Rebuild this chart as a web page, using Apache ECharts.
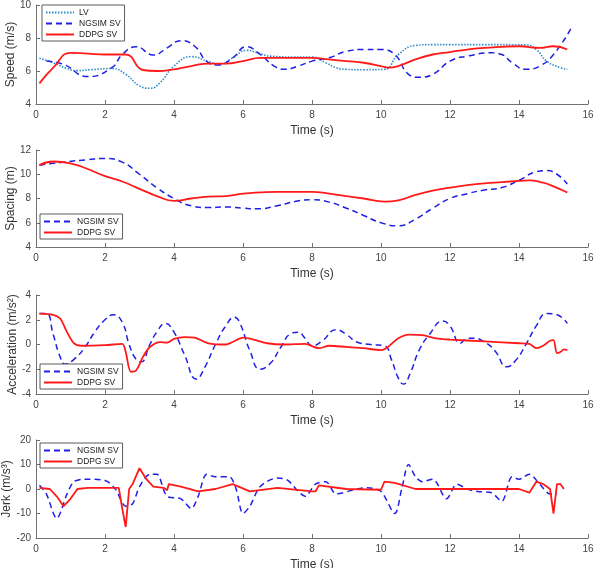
<!DOCTYPE html>
<html><head><meta charset="utf-8">
<script src="https://cdn.jsdelivr.net/npm/echarts@6/dist/echarts.min.js"></script>
<style>html,body{margin:0;padding:0;background:#fff}#c{width:594px;height:568px}</style>
</head><body><div id="c"></div>
<script>
// ---- Speed panel ----
const speedLV_t = [0.1,0.5,0.9,1.2,1.6,2.2,2.6,3.0,3.3,3.6,4.0,4.5,5.0,5.3,5.7,6.1,6.5,6.8,7.5,8.0,8.4,8.7,9.0,9.5,10.1,10.5,11.0,11.5,12,13,14.2,14.5,14.8,15.2,15.4];
const speedLV_v = [6.77,6.5,6.15,6.02,6.08,6.15,5.8,5.1,4.95,5.3,6.3,6.87,6.57,6.4,6.8,7.25,7.05,6.9,6.85,6.85,6.5,6.2,6.1,6.08,6.1,7.0,7.55,7.6,7.6,7.6,7.58,7.3,6.6,6.2,6.1];
const speedNG_t = [0.3,0.8,1.5,2.2,2.5,2.9,3.4,3.8,4.2,4.6,5.0,5.3,5.7,6.1,6.5,6.9,7.2,7.6,8.0,8.5,9.0,9.5,10.0,10.4,10.8,11.1,11.5,12,12.5,13.2,13.5,13.8,14.2,14.6,15.0,15.5];
const speedNG_v = [6.6,6.4,5.66,6.2,7.0,7.47,6.97,7.4,7.84,7.5,6.5,6.36,6.8,7.47,7.0,6.3,6.1,6.3,6.6,6.8,7.2,7.3,7.3,7.0,5.8,5.62,5.8,6.6,6.9,7.1,7.0,6.5,6.1,6.3,7.0,8.55];
const speedDD_t = [0.1,0.5,1.0,1.5,2.0,2.6,3.1,3.5,4.0,4.5,5.0,5.5,6.0,6.5,7.0,8.0,8.5,9.0,9.5,10.0,10.2,10.5,11.0,11.5,12.0,12.5,13.0,14.0,14.6,15.0,15.4];
const speedDD_v = [5.25,6.2,7.1,7.05,7.0,7.0,6.06,6.0,6.1,6.3,6.45,6.45,6.6,6.8,6.8,6.8,6.7,6.6,6.5,6.3,6.2,6.3,6.7,7.0,7.15,7.3,7.4,7.5,7.4,7.5,7.3];
// ---- Spacing panel ----
const spaceNG_t = [0.1,0.8,1.5,2.0,2.5,3.0,3.5,4.0,4.5,5.0,5.5,6.0,6.4,7.0,7.5,8.0,8.5,9.0,9.5,10.0,10.5,11.0,11.5,12.0,12.5,13.0,13.5,14.0,14.5,14.8,15.1,15.4];
const spaceNG_v = [10.75,11.0,11.2,11.3,11.0,10.0,8.9,8.0,7.4,7.25,7.3,7.2,7.15,7.4,7.75,7.9,7.7,7.2,6.6,6.0,5.75,6.3,7.2,8.0,8.4,8.7,8.9,9.5,10.2,10.3,10.0,9.2];
const spaceDD_t = [0.1,0.5,1.0,2.0,2.5,3.0,3.5,4.0,4.5,5.0,5.5,6.0,6.5,7.0,8.0,8.5,9.0,9.5,10.1,10.5,11.0,11.5,12.0,12.5,13.0,13.5,14.0,14.3,14.7,15.0,15.4];
const spaceDD_v = [10.75,11.05,10.9,9.85,9.4,8.8,8.2,7.8,8.0,8.15,8.2,8.4,8.5,8.55,8.55,8.4,8.2,8.0,7.75,7.85,8.3,8.65,8.9,9.1,9.25,9.35,9.45,9.5,9.3,9.0,8.5];
// ---- Acceleration panel ----
const accNG_t = [0.1,0.3,0.5,0.7,0.85,1.1,1.4,1.7,2.0,2.25,2.5,2.7,2.9,3.05,3.3,3.5,3.75,4.0,4.3,4.65,4.9,5.2,5.5,5.75,5.9,6.2,6.5,6.8,7.1,7.4,7.6,7.8,8.0,8.3,8.7,9.0,9.3,9.7,10.1,10.3,10.5,10.65,10.85,11.1,11.4,11.8,12.0,12.3,12.5,12.7,13.0,13.3,13.65,13.9,14.2,14.5,14.8,15.1,15.4];
const accNG_v = [2.5,2.5,0.8,-1.0,-1.6,-1.2,-0.3,1.0,2.0,2.4,1.8,0.0,-1.2,-1.4,0.0,1.0,1.7,1.0,-0.8,-2.8,-1.8,0.0,1.5,2.2,1.8,-0.5,-2.0,-1.5,-0.2,0.9,1.0,0.5,-0.1,0.3,1.2,0.8,0.2,0.0,-0.1,-1.2,-2.7,-3.2,-2.3,-0.5,0.8,1.9,1.5,0.1,0.5,0.5,0.2,-0.5,-1.8,-1.3,0.0,1.5,2.5,2.4,1.7];
const accDD_t = [0.1,0.5,0.7,0.9,1.1,1.3,2.0,2.5,2.6,2.75,2.9,3.1,3.3,3.6,3.8,4.0,4.3,4.6,5.0,5.5,5.7,6.0,6.3,6.7,7.2,7.8,8.2,8.5,9.0,9.5,10.0,10.2,10.5,10.8,11.2,11.6,12.0,13.0,14.0,14.3,14.5,14.7,14.9,15.0,15.1,15.2,15.3,15.4];
const accDD_v = [2.5,2.4,2.1,1.0,0.1,-0.1,-0.05,0.05,-0.6,-2.2,-2.1,-1.0,-0.2,0.2,0.15,0.45,0.6,0.55,0.1,0.0,0.2,0.55,0.4,0.1,0.0,0.05,-0.3,-0.1,-0.2,-0.3,-0.45,-0.2,0.5,0.8,0.75,0.5,0.4,0.25,0.1,0.05,-0.3,-0.1,0.3,0.35,-0.7,-0.6,-0.4,-0.45];
// ---- Jerk panel ----
const jerkNG_t = [0.1,0.3,0.6,0.9,1.1,1.4,2.0,2.3,2.6,2.8,3.0,3.3,3.5,3.8,4.2,4.5,4.7,4.95,5.2,5.6,5.8,6.0,6.2,6.5,7.0,7.3,7.6,7.8,8.1,8.4,8.7,9.3,9.6,10.0,10.4,10.6,10.8,11.0,11.2,11.5,11.9,12.2,12.5,12.8,13.2,13.5,13.8,14.0,14.3,14.6,14.9,15.1];
const jerkNG_v = [1.5,-2,-12,-2,3,4,3.5,0,-7,-6,1,6,6,-3,-4,-8,-3,6,5,5,0,-10,-7,1,4.5,3.5,-1,-3,2,3,-2,0,0.5,-1,-10,0,10,5,3,4,-4,2,0,-1,-1.5,-5,5,4,6,2,-2,-2];
const jerkDD_t = [0.1,0.4,0.6,0.8,1.0,1.2,1.5,2.0,2.4,2.5,2.6,2.7,2.8,3.0,3.2,3.4,3.7,3.8,3.85,4.2,4.7,5.2,5.7,6.2,7.0,8.0,8.1,8.2,9.0,10.0,10.1,10.4,11.0,12.0,14.0,14.3,14.5,14.7,14.9,15.0,15.1,15.2,15.3];
const jerkDD_v = [0.5,0,-3,-7,-4,0,0.5,0.5,0.5,-8,-15.5,0,2,8.5,4,1,0.5,-0.5,2,1,-1,0,2,-1,0.5,-1,-1,1.5,0,-0.3,3,2.5,0,0,0,-1.5,3,2,0,-10,2,2,0];
// ---- axes ----
const timeTicks = [0,2,4,6,8,10,12,14,16];
const yNames = ['Speed (m/s)','Spacing (m)','Acceleration (m/s\u00b2)','Jerk (m/s\u00b3)'];
const yRanges = [[4,10,2],[4,12,2],[-4,4,2],[-20,20,10]];

const zip = (t,v) => t.map((x,i)=>[x,v[i]]);
const FONT = "'Liberation Sans', Arial, sans-serif";
const AX = '#707070';
const BLUE = '#1f1fe6', LVC = '#2c8ccc', RED = '#ff1a1a';

const tops = [5,150,295,440], heights = [99,97,99,98];
const nameGaps = [19,19,17,23];
const grids = tops.map((t,i)=>({left:36,right:6,top:t,height:heights[i],containLabel:false,outerBoundsMode:'none'}));
const xAxes = tops.map((t,i)=>({gridIndex:i,type:'value',min:timeTicks[0],max:timeTicks[timeTicks.length-1],interval:2,
  name:'Time (s)',nameLocation:'middle',nameGap:21,nameMoveOverlap:false,nameTextStyle:{fontFamily:FONT,fontSize:12,color:'#333'},
  axisLine:{onZero:false,lineStyle:{color:AX}},axisTick:{inside:true,length:4,lineStyle:{color:AX}},
  axisLabel:{fontFamily:FONT,fontSize:10,color:'#444',margin:6},splitLine:{show:false}}));
const yAxes = yRanges.map((r,i)=>({gridIndex:i,type:'value',min:r[0],max:r[1],interval:r[2],
  name:yNames[i],nameLocation:'middle',nameGap:nameGaps[i],nameMoveOverlap:false,nameTextStyle:{fontFamily:FONT,fontSize:12,color:'#333'},
  axisLine:{lineStyle:{color:AX}},axisTick:{inside:true,length:4,lineStyle:{color:AX}},
  axisLabel:{fontFamily:FONT,fontSize:10,color:'#444',margin:5},splitLine:{show:false}}));

const mk = (name,i,data,kind,smooth=true)=>({name,type:'line',xAxisIndex:i,yAxisIndex:i,data,symbol:'none',smooth,
  lineStyle: kind==='lv'?{color:LVC,width:1.6,type:[1.5,1.5]}:kind==='ng'?{color:BLUE,width:1.5,type:[6,4]}:{color:RED,width:1.8,type:'solid'},
  itemStyle:{color: kind==='lv'?LVC:kind==='ng'?BLUE:RED},z: kind==='dd'?3:2});

const series = [
  mk('LV',0,zip(speedLV_t,speedLV_v),'lv'),
  mk('NGSIM SV',0,zip(speedNG_t,speedNG_v),'ng'),
  mk('DDPG SV',0,zip(speedDD_t,speedDD_v),'dd'),
  mk('NGSIM SV',1,zip(spaceNG_t,spaceNG_v),'ng'),
  mk('DDPG SV',1,zip(spaceDD_t,spaceDD_v),'dd'),
  mk('NGSIM SV',2,zip(accNG_t,accNG_v),'ng'),
  mk('DDPG SV',2,zip(accDD_t,accDD_v),'dd',0.3),
  mk('NGSIM SV',3,zip(jerkNG_t,jerkNG_v),'ng',0.3),
  mk('DDPG SV',3,zip(jerkDD_t,jerkDD_v),'dd',false)
];
const lg = (left,top,data)=>({left,top,orient:'vertical',data,itemWidth:28,itemHeight:10,itemGap:2,
  padding:[3,4,2,3],borderColor:'#333',borderWidth:0.8,backgroundColor:'#fff',selectedMode:false,
  itemStyle:{opacity:0},
  textStyle:{fontFamily:FONT,fontSize:8.5,color:'#222'}});
const legends = [
  lg(42,5,['LV','NGSIM SV','DDPG SV']),
  lg(40,214,['NGSIM SV','DDPG SV']),
  lg(40,364,['NGSIM SV','DDPG SV']),
  lg(40,443,['NGSIM SV','DDPG SV'])
];
const chart = echarts.init(document.getElementById('c'),null,{renderer:'canvas'});
chart.setOption({animation:false,backgroundColor:'#fff',grid:grids,xAxis:xAxes,yAxis:yAxes,legend:legends,series});
</script></body></html>
